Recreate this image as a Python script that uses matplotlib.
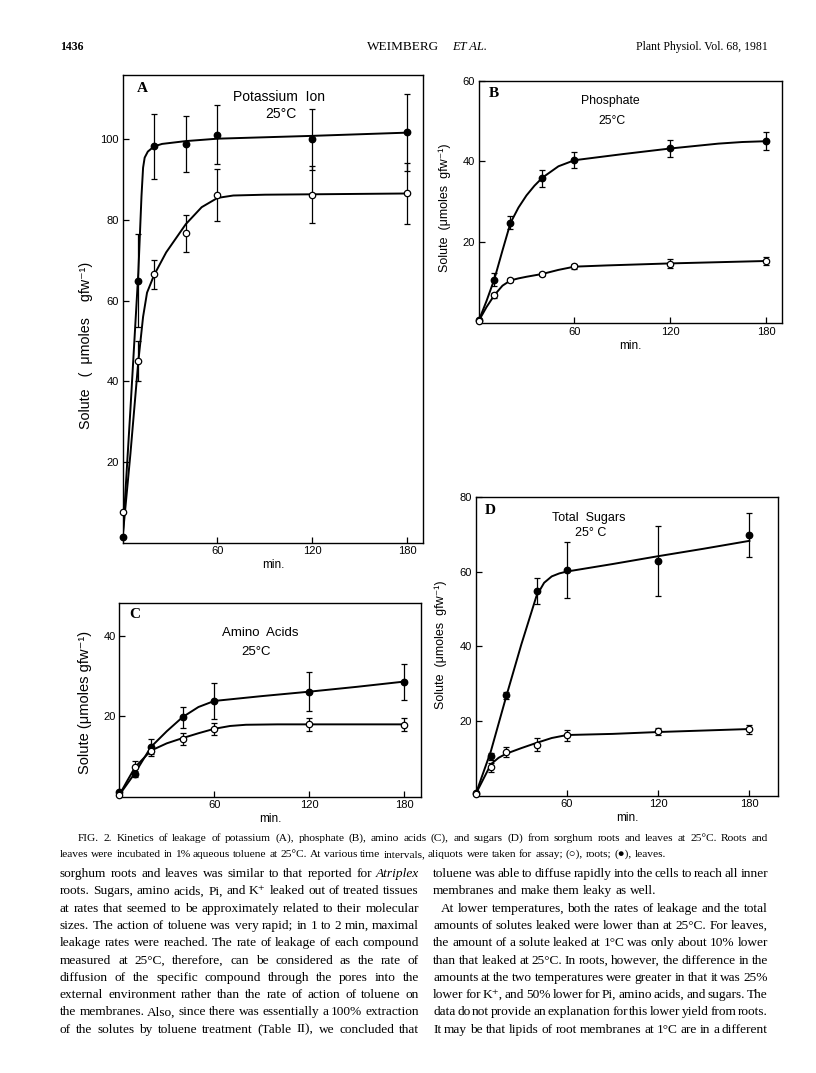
import matplotlib.pyplot as plt
import numpy as np

plt.rcParams['font.family'] = ['Liberation Sans', 'DejaVu Sans']

# sampling times (min)
t = [0, 10, 20, 40, 60, 120, 180]

# A - potassium
k_leaf = [1.4, 65, 98.3, 98.9, 101.2, 100, 101.8]
k_leaf_err = [0, 11.5, 8, 7, 7.3, 7.5, 9.5]
k_root = [7.6, 45, 66.5, 76.7, 86.3, 86.3, 86.6]
k_root_err = [0, 5, 3.5, 4.6, 6.5, 7, 7.5]
k_leaf_fit_t = [0, 5, 10, 12, 13, 14, 16, 20, 25, 40, 60, 120, 180]
k_leaf_fit = [0.5, 33, 67, 86, 93, 95.5, 97, 98.3, 98.9, 99.6, 100.2, 100.9, 101.7]
k_root_fit_t = [0, 5, 10, 13, 15.5, 20, 27.6, 40, 50, 60, 70, 90, 180]
k_root_fit = [1, 22, 45, 56, 62, 66.4, 72, 79, 83.2, 85.5, 86.1, 86.3, 86.6]

# B - phosphate
p_leaf = [0.7, 10.8, 24.8, 35.9, 40.4, 43.3, 45]
p_leaf_err = [0, 1.6, 1.6, 2.1, 2, 2.1, 2.2]
p_root = [0.5, 6.9, 10.6, 12.1, 14.1, 14.7, 15.4]
p_root_err = [0, 0.7, 0.5, 0.5, 0.6, 1.1, 1.0]
p_leaf_fit_t = [0, 5, 10, 15, 20, 25, 30, 35, 40, 50, 60, 90, 120, 150, 165, 180]
p_leaf_fit = [0.5, 5.5, 11, 18, 24.8, 28.6, 31.6, 34, 36, 38.8, 40.3, 41.8, 43.2, 44.4, 44.8, 45]
p_root_fit_t = [0, 5, 10, 15, 20, 25, 30, 40, 50, 60, 80, 120, 180]
p_root_fit = [0.5, 4, 7, 9.3, 10.6, 11.1, 11.5, 12.2, 13.2, 14, 14.3, 14.8, 15.4]

# C - amino acids
a_leaf = [1.2, 5.7, 12.5, 19.8, 23.8, 26.1, 28.5]
a_leaf_err = [0, 0.8, 1.8, 2.6, 4.5, 4.9, 4.5]
a_root = [0.6, 7.4, 11.4, 14.4, 16.8, 18, 17.9]
a_root_err = [0, 1.5, 1.2, 1.5, 1.5, 1.6, 1.6]
a_leaf_fit_t = [0, 10, 20, 30, 40, 50, 60, 90, 120, 150, 180]
a_leaf_fit = [0.5, 6, 12.4, 16.3, 19.8, 22.3, 23.8, 25, 26.1, 27.3, 28.6]
a_root_fit_t = [0, 5, 10, 20, 30, 40, 50, 60, 70, 80, 100, 180]
a_root_fit = [0.5, 4, 7.4, 11.5, 13.3, 14.6, 15.8, 16.9, 17.6, 17.9, 18, 18]

# D - total sugars
s_leaf = [0.9, 10.6, 26.9, 54.7, 60.3, 62.8, 69.8]
s_leaf_err = [0, 1, 1, 3.5, 7.5, 9.3, 5.8]
s_root = [0.5, 7.7, 11.7, 13.7, 16.2, 17.3, 17.9]
s_root_err = [0, 1.2, 1.4, 1.7, 1.4, 0.9, 1.2]
s_leaf_fit_t = [0, 10, 20, 30, 40, 45, 50, 55, 60, 90, 120, 150, 180]
s_leaf_fit = [0.5, 12, 26.5, 40.5, 53.5, 57, 58.7, 59.5, 60, 62, 64.1, 66.1, 68.2]
s_root_fit_t = [0, 5, 10, 15, 20, 30, 40, 50, 60, 90, 120, 180]
s_root_fit = [0.5, 4.5, 8.5, 10.2, 11.3, 12.8, 14.2, 15.5, 16.3, 16.6, 17.1, 17.9]

W, H = 816, 1073
fig = plt.figure(figsize=(W / 100, H / 100), dpi=100)

# pixel boxes (left, top, right, bottom) of the four panels
boxA = (122.5, 75, 423.3, 542.5)
boxB = (478.5, 80.5, 782.3, 323.3)
boxC = (119.3, 603.3, 421, 797)
boxD = (475.7, 496.7, 778.3, 796)


def axes_px(box):
    l, tp, r, b = box
    return fig.add_axes([l / W, 1 - b / H, (r - l) / W, (b - tp) / H])


def frac(box, x, y):
    l, tp, r, b = box
    return (x - l) / (r - l), (b - y) / (b - tp)


def panel(box, letter, title, sub, tsize, leaf, leaf_err, root, root_err, lft, lf, rft, rf,
          xmax, ymax, yticks, ylab, labsize, lab_xy, title_xy, sub_xy, letter_xy):
    ax = axes_px(box)
    ax.plot(lft, lf, 'k-', lw=1.4)
    ax.plot(rft, rf, 'k-', lw=1.4)
    ax.errorbar(t, leaf, yerr=leaf_err, fmt='o', mfc='k', mec='k', ms=4.6,
                ecolor='k', elinewidth=0.9, capsize=2.5, capthick=0.9, clip_on=False, zorder=3)
    ax.errorbar(t, root, yerr=root_err, fmt='o', mfc='white', mec='k', mew=0.9, ms=4.6,
                ecolor='k', elinewidth=0.9, capsize=2.5, capthick=0.9, clip_on=False, zorder=3)
    ax.set_xlim(0, xmax)
    ax.set_ylim(0, ymax)
    ax.set_xticks([60, 120, 180])
    ax.set_yticks(yticks)
    ax.tick_params(direction='in', length=4, width=0.9, labelsize=8, pad=2.5)
    for s in ax.spines.values():
        s.set_linewidth(1.0)
    ax.set_xlabel('min.', fontsize=8.5, labelpad=2)
    ax.set_ylabel(ylab, fontsize=labsize)
    ax.yaxis.set_label_coords(*lab_xy)
    ax.text(*frac(box, *title_xy), title, transform=ax.transAxes, fontsize=tsize,
            ha='center', va='center')
    ax.text(*frac(box, *sub_xy), sub, transform=ax.transAxes, fontsize=tsize,
            ha='center', va='center')
    ax.text(*frac(box, *letter_xy), letter, transform=ax.transAxes, fontsize=11,
            family='Liberation Serif', weight='bold', ha='center', va='center')
    return ax


panel(boxA, 'A', 'Potassium  Ion', '25\u00b0C', 10, k_leaf, k_leaf_err, k_root, k_root_err,
      k_leaf_fit_t, k_leaf_fit, k_root_fit_t, k_root_fit, 190, 116, [20, 40, 60, 80, 100],
      'Solute   (  \u03bcmoles    gfw\u207b\u00b9)', 10.3, (-0.097, 0.422),
      (279, 97), (281, 114), (142.7, 88.5))
panel(boxB, 'B', 'Phosphate', '25\u00b0C', 8.8, p_leaf, p_leaf_err, p_root, p_root_err,
      p_leaf_fit_t, p_leaf_fit, p_root_fit_t, p_root_fit, 190, 60, [20, 40, 60],
      'Solute  (\u03bcmoles  gfw\u207b\u00b9)', 9, (-0.0915, 0.475),
      (610.5, 100.5), (611.7, 120.7), (494, 93.3))
panel(boxC, 'C', 'Amino  Acids', '25\u00b0C', 9.5, a_leaf, a_leaf_err, a_root, a_root_err,
      a_leaf_fit_t, a_leaf_fit, a_root_fit_t, a_root_fit, 190.6, 48, [20, 40],
      'Solute (\u03bcmoles gfw\u207b\u00b9)', 10.5, (-0.0895, 0.49),
      (260.5, 632.7), (256, 651.7), (135, 615))
panel(boxD, 'D', 'Total  Sugars', '25\u00b0 C', 9, s_leaf, s_leaf_err, s_root, s_root_err,
      s_leaf_fit_t, s_leaf_fit, s_root_fit_t, s_root_fit, 199, 80, [20, 40, 60, 80],
      'Solute  (\u03bcmoles  gfw\u207b\u00b9)', 9, (-0.095, 0.505),
      (589, 517.7), (591, 533.3), (490, 510.7))

# ---- page text ----
serif = ['Liberation Serif', 'DejaVu Serif']
renderer = fig.canvas.get_renderer()


def put_line(text, x0, x1, y, size, justify=True):
    words = text.split(' ')
    objs = []
    for w in words:
        st = 'italic' if w.startswith('_') else 'normal'
        o = fig.text(0, 0, w.lstrip('_'), fontsize=size, family=serif, style=st,
                     ha='left', va='baseline')
        objs.append(o)
    widths = [o.get_window_extent(renderer).width for o in objs]
    if justify and len(words) > 1:
        gap = (x1 - x0 - sum(widths)) / (len(words) - 1)
    else:
        gap = size * 0.25 * 100 / 72
    x = x0
    for o, w in zip(objs, widths):
        o.set_position((x / W, 1 - y / H))
        x += w + gap


fig.text(60 / W, 1 - 50 / H, '1436', fontsize=8.5, family=serif, weight='bold', va='baseline')
fig.text(367 / W, 1 - 50 / H, 'WEIMBERG', fontsize=9.5, family=serif, va='baseline')
fig.text(452 / W, 1 - 50 / H, 'ET AL.', fontsize=9, family=serif, style='italic', va='baseline')
fig.text(768 / W, 1 - 50 / H, 'Plant Physiol. Vol. 68, 1981', fontsize=8.5, family=serif,
         ha='right', va='baseline')

caption = [
    ('FIG. 2. Kinetics of leakage of potassium (A), phosphate (B), amino acids (C), and sugars (D) '
     'from sorghum roots and leaves at 25\u00b0C. Roots and', 78, 768, 841, True),
    ('leaves were incubated in 1% aqueous toluene at 25\u00b0C. At various time intervals, aliquots '
     'were taken for assay; (\u25cb), roots; (\u25cf), leaves.', 60, 768, 857, False),
]
for s, x0, x1, y, j in caption:
    put_line(s, x0, x1, y, 8.2, j)

left_col = [
    ('sorghum roots and leaves was similar to that reported for _Atriplex', True),
    ('roots. Sugars, amino acids, Pi, and K\u207a leaked out of treated tissues', True),
    ('at rates that seemed to be approximately related to their molecular', True),
    ('sizes. The action of toluene was very rapid; in 1 to 2 min, maximal', True),
    ('leakage rates were reached. The rate of leakage of each compound', True),
    ('measured at 25\u00b0C, therefore, can be considered as the rate of', True),
    ('diffusion of the specific compound through the pores into the', True),
    ('external environment rather than the rate of action of toluene on', True),
    ('the membranes. Also, since there was essentially a 100% extraction', True),
    ('of the solutes by toluene treatment (Table II), we concluded that', True),
]
right_col = [
    ('toluene was able to diffuse rapidly into the cells to reach all inner', True, 0),
    ('membranes and make them leaky as well.', False, 0),
    ('At lower temperatures, both the rates of leakage and the total', True, 8),
    ('amounts of solutes leaked were lower than at 25\u00b0C. For leaves,', True, 0),
    ('the amount of a solute leaked at 1\u00b0C was only about 10% lower', True, 0),
    ('than that leaked at 25\u00b0C. In roots, however, the difference in the', True, 0),
    ('amounts at the two temperatures were greater in that it was 25%', True, 0),
    ('lower for K\u207a, and 50% lower for Pi, amino acids, and sugars. The', True, 0),
    ('data do not provide an explanation for this lower yield from roots.', True, 0),
    ('It may be that lipids of root membranes at 1\u00b0C are in a different', True, 0),
]
y0, dy = 877, 17.3
for i, (s, j) in enumerate(left_col):
    put_line(s, 60, 419, y0 + i * dy, 9.6, j)
for i, (s, j, ind) in enumerate(right_col):
    put_line(s, 433 + ind, 768, y0 + i * dy, 9.6, j)

fig.savefig('out.png', dpi=100)
